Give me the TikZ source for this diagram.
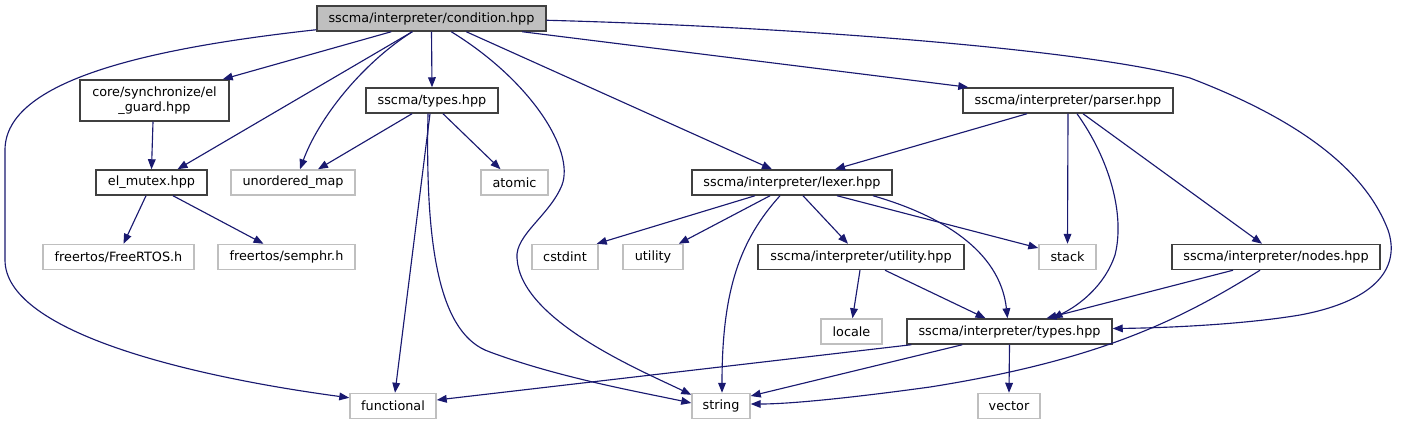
\documentclass[tikz,border=0pt]{standalone}
\usepackage{fontspec}
\setmainfont{DejaVu Sans}
\usetikzlibrary{arrows.meta,calc}
\definecolor{edgec}{HTML}{191970}
\definecolor{grayb}{HTML}{BFBFBF}
\definecolor{darkb}{HTML}{404040}
\newlength\px
\setlength\px{0.75pt}
\begin{document}
\begin{tikzpicture}[x=0.75pt,y=-0.75pt,
  every node/.style={font=\fontsize{9.6}{11.4}\selectfont, inner sep=0pt, align=center},
  docbox/.style={draw=darkb, line width=1.1pt, fill=white, minimum height=25\px},
  extbox/.style={draw=grayb, line width=1.1pt, fill=white, minimum height=25\px},
  rootbox/.style={draw=darkb, line width=1.1pt, fill=grayb, minimum height=25\px},
  dep/.style={draw=edgec, line width=0.85pt, -{Triangle[length=7.5pt,width=5.8pt]}, shorten >=0pt}
]
\useasboundingbox (0,0) rectangle (1402,425);

% nodes
\node[rootbox, minimum width=229\px] (cond) at (431.5,18.5) {sscma/interpreter/condition.hpp};
\node[docbox, minimum width=149\px, minimum height=41\px] (guard) at (154.5,100.5) {core/synchronize/el\\\_guard.hpp};
\node[docbox, minimum width=111\px] (mutex) at (151.5,182.5) {el\_mutex.hpp};
\node[extbox, minimum width=124\px] (umap) at (293,182.5) {unordered\_map};
\node[docbox, minimum width=132\px] (stypes) at (432,100.5) {sscma/types.hpp};
\node[extbox, minimum width=67\px] (atomic) at (514.5,182.5) {atomic};
\node[docbox, minimum width=200\px] (lexer) at (792,182.5) {sscma/interpreter/lexer.hpp};
\node[docbox, minimum width=210\px] (parser) at (1068,100.5) {sscma/interpreter/parser.hpp};
\node[extbox, minimum width=151\px] (frtos) at (118.5,257) {freertos/FreeRTOS.h};
\node[extbox, minimum width=137\px] (semphr) at (286.5,257) {freertos/semphr.h};
\node[extbox, minimum width=66\px] (cstdint) at (565,257) {cstdint};
\node[extbox, minimum width=60\px] (utility) at (653,257) {utility};
\node[docbox, minimum width=206\px] (uhpp) at (861,257) {sscma/interpreter/utility.hpp};
\node[extbox, minimum width=57\px] (stack) at (1067.5,257) {stack};
\node[docbox, minimum width=208\px] (nodes) at (1276,257) {sscma/interpreter/nodes.hpp};
\node[extbox, minimum width=61\px] (locale) at (851.5,331.5) {locale};
\node[docbox, minimum width=205\px] (itypes) at (1009.5,331.5) {sscma/interpreter/types.hpp};
\node[extbox, minimum width=86\px] (func) at (393,406) {functional};
\node[extbox, minimum width=58\px] (string) at (721,406) {string};
\node[extbox, minimum width=62\px] (vector) at (1009,406) {vector};

% edges from condition.hpp
\draw[dep] ($(cond.south west)+(0,-2)$) .. controls (150,48) and (5,80) .. (5,150) -- (5,260) .. controls (5,330) and (180,375) .. ($(func.north west)+(0,5)$);
\draw[dep] ($(cond.south west)+(75,0)$) -- ($(guard.north east)+(-7,0)$);
\draw[dep] ($(cond.south west)+(96,0)$) -- ($(mutex.north)+(26,0)$);
\draw[dep] ($(cond.south west)+(96,0)$) .. controls (360,65) and (318,120) .. ($(umap.north)+(7,0)$);
\draw[dep] (cond.south) -- (stypes.north);
\draw[dep] ($(cond.south west)+(135,0)$) .. controls (530,80) and (575,150) .. (562,185) .. controls (550,215) and (515,235) .. (517,258) .. controls (520,320) and (640,370) .. ($(string.north west)+(0,2)$);
\draw[dep] ($(cond.south west)+(150,0)$) -- ($(lexer.north)+(-20,0)$);
\draw[dep] ($(cond.south west)+(206,0)$) -- ($(parser.north west)+(6,0)$);
\draw[dep] ($(cond.north east)+(0,15)$) .. controls (800,27) and (1090,50) .. (1190,78) .. controls (1300,120) and (1365,170) .. (1388,230) .. controls (1400,265) and (1380,300) .. (1300,315) .. controls (1240,325) and (1160,328) .. ($(itypes.east)+(0,-3)$);

% sscma/types.hpp
\draw[dep] ($(stypes.south)+(-2,0)$) -- ($(func.north)+(2,0)$);
\draw[dep] ($(stypes.south)+(-4,0)$) .. controls (425,250) and (440,335) .. (490,352) .. controls (560,378) and (640,392) .. ($(string.west)+(0,-3)$);
\draw[dep] ($(stypes.south)+(-20,0)$) -- ($(umap.north)+(25,0)$);
\draw[dep] ($(stypes.south)+(11,0)$) -- ($(atomic.north)+(-14,0)$);

% el_guard / el_mutex
\draw[dep] ($(guard.south)+(-1.5,0)$) -- (mutex.north);
\draw[dep] ($(mutex.south)+(-5.5,0)$) -- ($(frtos.north)+(5,0)$);
\draw[dep] ($(mutex.south)+(21.5,0)$) -- ($(semphr.north)+(-23,0)$);

% parser
\draw[dep] ($(parser.south)+(-41,0)$) -- ($(lexer.north)+(43,0)$);
\draw[dep] (parser.south) -- (stack.north);
\draw[dep] ($(parser.south)+(9,0)$) .. controls (1110,160) and (1125,215) .. (1115,255) .. controls (1105,285) and (1080,305) .. ($(itypes.north)+(43,0)$);
\draw[dep] ($(parser.south)+(15,0)$) -- ($(nodes.north)+(-14,0)$);

% lexer
\draw[dep] ($(lexer.south)+(-37,0)$) -- ($(cstdint.north east)+(-2,0)$);
\draw[dep] ($(lexer.south)+(-22,0)$) -- ($(utility.north east)+(-5,0)$);
\draw[dep] ($(lexer.south)+(-12,0)$) .. controls (740,240) and (722,290) .. ($(string.north)+(1,0)$);
\draw[dep] ($(lexer.south)+(11,0)$) -- ($(uhpp.north)+(-13,0)$);
\draw[dep] ($(lexer.south)+(45,0)$) -- ($(stack.west)+(0,-9)$);
\draw[dep] ($(lexer.south)+(81,0)$) .. controls (940,215) and (1000,250) .. ($(itypes.north)+(-2,0)$);

% utility.hpp
\draw[dep] ($(uhpp.south)+(-1,0)$) -- ($(locale.north)+(1,0)$);
\draw[dep] ($(uhpp.south)+(24,0)$) -- ($(itypes.north)+(-24,0)$);

% nodes.hpp
\draw[dep] ($(nodes.south)+(-43,0)$) -- ($(itypes.north)+(37,0)$);
\draw[dep] ($(nodes.south)+(-16,0)$) .. controls (1180,320) and (1100,360) .. (930,387) .. controls (850,398) and (790,404) .. ($(string.east)+(0,-2)$);

% interpreter/types.hpp
\draw[dep] ($(itypes.south west)+(5,0)$) -- ($(func.east)+(0,-6)$);
\draw[dep] ($(itypes.south west)+(56,0)$) -- ($(string.east)+(0,-10)$);
\draw[dep] (itypes.south) -- (vector.north);
\end{tikzpicture}
\end{document}
